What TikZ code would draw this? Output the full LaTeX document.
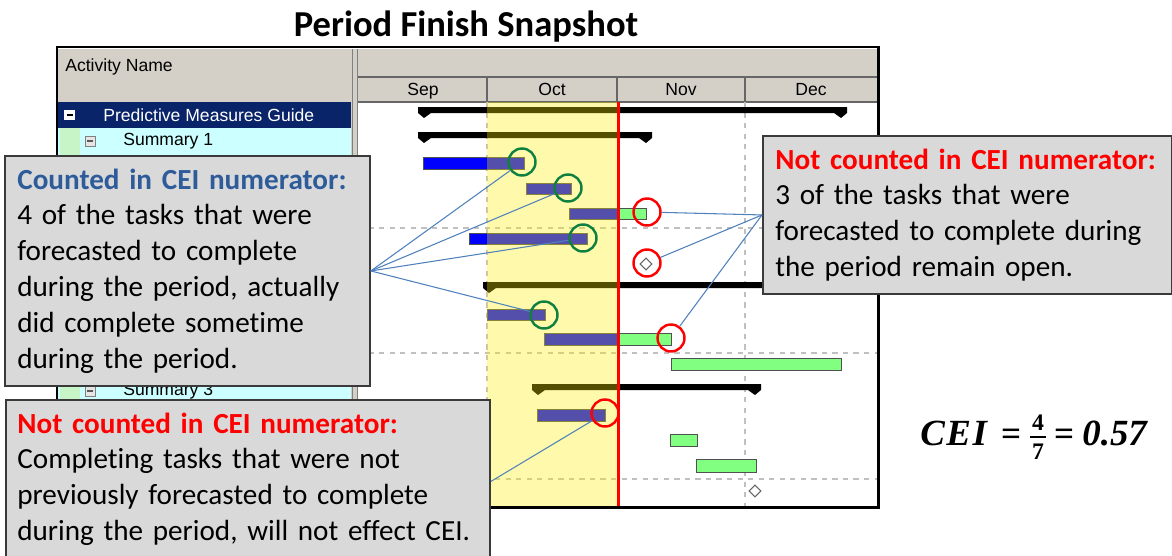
\documentclass[tikz,border=0pt]{standalone}
\usepackage{fontspec}
\setmainfont{Carlito}[Ligatures={NoCommon}]
\newfontfamily\gfont{Liberation Sans}
\newfontfamily\ceifont{Liberation Serif}
\newfontfamily\ceiwide{Liberation Serif}[LetterSpace=4]
\usetikzlibrary{shapes.geometric}
\definecolor{hdrgray}{HTML}{D4D0C8}
\definecolor{navyrow}{HTML}{0A246A}
\definecolor{cyanrow}{HTML}{CCFFFF}
\definecolor{greenstrip}{HTML}{C8F5C8}
\definecolor{taskblue}{HTML}{0000FF}
\definecolor{taskgreen}{HTML}{80FF80}
\definecolor{barline}{HTML}{505050}
\definecolor{circgreen}{HTML}{0E8040}
\definecolor{circred}{HTML}{FF0000}
\definecolor{connblue}{HTML}{4F81BD}
\definecolor{boxgray}{HTML}{D9D9D9}
\definecolor{boxline}{HTML}{3A3A3A}
\definecolor{titleblue}{HTML}{2E5C9A}
\definecolor{gridgray}{HTML}{C0C0C0}
\newcommand\sumbar[3]{\fill[black] (#1,#3) -- (#2,#3) -- (#2,#3+6) -- (#2-6,#3+11) -- (#2-13,#3+6) -- (#1+13,#3+6) -- (#1+6,#3+11) -- (#1,#3+6) -- cycle;}
\tikzset{
  taskbar/.style={fill=#1, draw=barline, line width=0.5pt},
  gcirc/.style={circle, draw=circgreen, line width=1.4pt, minimum size=0.54cm, inner sep=0pt},
  rcirc/.style={circle, draw=circred, line width=1.4pt, minimum size=0.54cm, inner sep=0pt},
  conn/.style={draw=connblue, line width=0.6pt},
  callbox/.style={rectangle, fill=boxgray, draw=boxline, line width=1.1pt, anchor=north west, inner sep=0pt},
  calltext/.style={anchor=base west, inner sep=0pt, text width=10cm, align=left, font=\fontsize{16.6}{20.4}\selectfont},
  gfnt/.style={font=\gfont\fontsize{10}{12}\selectfont},
  monthlbl/.style={gfnt, anchor=base, inner sep=0pt},
  ceibig/.style={font=\ceiwide\bfseries\itshape\fontsize{21}{24}\selectfont, inner sep=0pt, anchor=base west},
  ceinum/.style={font=\ceifont\bfseries\itshape\fontsize{21}{24}\selectfont, inner sep=0pt, anchor=base west},
  ceieq/.style={font=\ceifont\bfseries\fontsize{20}{24}\selectfont, inner sep=0pt, anchor=base},
  ceifrac/.style={font=\ceifont\bfseries\fontsize{13.5}{15}\selectfont, inner sep=0pt},
  milestone/.style={diamond, draw=black!60, fill=white, line width=0.6pt, minimum size=0.24cm, inner sep=0pt},
}
\begin{document}
\begin{tikzpicture}[x=0.02cm,y=-0.02cm]
\useasboundingbox (0,0) rectangle (1172,555);
\fill[white] (0,0) rectangle (1172,555);
% title
\node[font=\bfseries\fontsize{20.8}{24}\selectfont, inner sep=0pt] (title) at (466,27) {Period Finish Snapshot};
% ---------- table ----------
\fill[hdrgray] (58,49) rectangle (351,102);
\node[gfnt, anchor=west, inner sep=0pt] (actname) at (65,67) {Activity Name};
\fill[cyanrow] (58,128) rectangle (351,507);
\fill[greenstrip] (60,128) rectangle (80,507);
\fill[navyrow] (58,102) rectangle (351,128);
\fill[white] (64,110) rectangle (75,120);
\draw[black, line width=1pt] (66.5,115) -- (72.5,115);
\node[gfnt, text=white, anchor=west, inner sep=0pt] (pmg) at (103,115) {Predictive Measures Guide};
\draw[gray, fill=white!90!black, line width=0.5pt] (85,136) rectangle (95,146);
\draw[gray!70!black, line width=0.8pt] (87,141) -- (93,141);
\node[gfnt, anchor=west, inner sep=0pt] (sum1) at (123,141) {Summary 1};
\draw[gray, fill=white!90!black, line width=0.5pt] (85,386) rectangle (95,396);
\draw[gray!70!black, line width=0.8pt] (87,391) -- (93,391);
\node[gfnt, anchor=west, inner sep=0pt] (sum3) at (123,391) {Summary 3};
% separator
\fill[hdrgray] (351,49) rectangle (358,507);
\draw[gray, line width=0.5pt] (352,49) -- (352,507) (357,49) -- (357,507);
% ---------- chart ----------
\fill[hdrgray] (358,49) rectangle (877,102);
\draw[black!60, line width=0.6pt] (358,77) -- (877,77) (358,102) -- (877,102);
\foreach \xx in {487,617,745} \draw[black!60, line width=0.6pt] (\xx,77) -- (\xx,102);
\node[monthlbl] (msep) at (423,95) {Sep};
\node[monthlbl] (moct) at (552,95) {Oct};
\node[monthlbl] (mnov) at (681,95) {Nov};
\node[monthlbl] (mdec) at (811,95) {Dec};
% grid
\draw[gridgray, dashed, line width=0.6pt] (358,228) -- (877,228) (358,353) -- (877,353) (358,479) -- (877,479);
\draw[gridgray, dashed, line width=0.6pt] (487,102) -- (487,507) (745,102) -- (745,507);
% summary bars
\sumbar{418}{847}{107}
\sumbar{418}{652}{132}
\sumbar{483}{847}{282}
\sumbar{532}{761}{384}
% task bars
\path[taskbar=taskblue] (423,157) rectangle (524,169);
\path[taskbar=taskblue] (526,183) rectangle (571,194);
\path[taskbar=taskblue] (569,208) rectangle (618,219);
\path[taskbar=taskgreen] (618,208) rectangle (646,219);
\path[taskbar=taskblue] (469,233) rectangle (587,244);
\path[taskbar=taskblue] (487,309) rectangle (545,320);
\path[taskbar=taskblue] (544,333) rectangle (618,345);
\path[taskbar=taskgreen] (618,333) rectangle (671,345);
\path[taskbar=taskgreen] (671,358) rectangle (841,370);
\path[taskbar=taskblue] (537,409) rectangle (605,421);
\path[taskbar=taskgreen] (670,434) rectangle (697,446);
\path[taskbar=taskgreen] (696,459) rectangle (756,472);
\node[milestone] (ms1) at (646,264) {};
\node[milestone] (ms2) at (755,491) {};
% period band overlay
\fill[yellow, opacity=0.33] (487,102) rectangle (617,507);
% status line
\draw[red, line width=1.7pt] (618,102) -- (618,507);
% frame
\draw[black, line width=1.7pt] (57,47) rectangle (878,507);
% circles
\node[gcirc] (c1) at (522,162) {};
\node[gcirc] (c2) at (568,188) {};
\node[gcirc] (c3) at (583,238) {};
\node[gcirc] (c4) at (544,315) {};
\node[rcirc] (r1) at (647,212) {};
\node[rcirc] (r2) at (647,263) {};
\node[rcirc] (r3) at (671,338) {};
\node[rcirc] (r4) at (605,413) {};
% ---------- callouts ----------
\node[callbox, minimum width=7.3cm, minimum height=4.6cm] (lbox) at (4,155) {};
\node[callbox, minimum width=8.18cm, minimum height=3.16cm] (rbox) at (762,135) {};
\node[callbox, minimum width=9.68cm, minimum height=3.26cm] (bbox) at (5,399) {};
\draw[conn] (lbox.east) -- (c1);
\draw[conn] (lbox.east) -- (c2);
\draw[conn] (lbox.east) -- (c3);
\draw[conn] (lbox.east) -- (c4);
\draw[conn] (rbox.west) -- (r1);
\draw[conn] (rbox.west) -- (r2);
\draw[conn] (rbox.west) -- (r3);
\draw[conn] (bbox.east) -- (r4);
\node[calltext] (ltext) at (17,189) {{\bfseries\color{titleblue}Counted in CEI numerator:}\\4 of the tasks that were\\forecasted to complete\\during the period, actually\\did complete sometime\\during the period.};
\node[calltext] (rtext) at (775,169) {{\bfseries\color{red}Not counted in CEI numerator:}\\3 of the tasks that were\\forecasted to complete during\\the period remain open.};
\node[calltext] (btext) at (17,433) {{\bfseries\color{red}Not counted in CEI numerator:}\\Completing tasks that were not\\previously forecasted to complete\\during the period, will not effect CEI.};
% formula
\node[ceibig] (ceil) at (920,445) {CEI};
\node[ceieq] (eq1) at (1011,445) {=};
\node[ceifrac] (fnum) at (1038,423) {4};
\node[ceifrac] (fden) at (1038,452) {7};
\coordinate (fbl) at (1030,437);
\coordinate (fbr) at (1046,437);
\draw[black, line width=0.9pt] (fbl) -- (fbr);
\node[ceieq] (eq2) at (1064,445) {=};
\node[ceinum] (ceir) at (1082,445) {0.57};
\end{tikzpicture}
\end{document}
